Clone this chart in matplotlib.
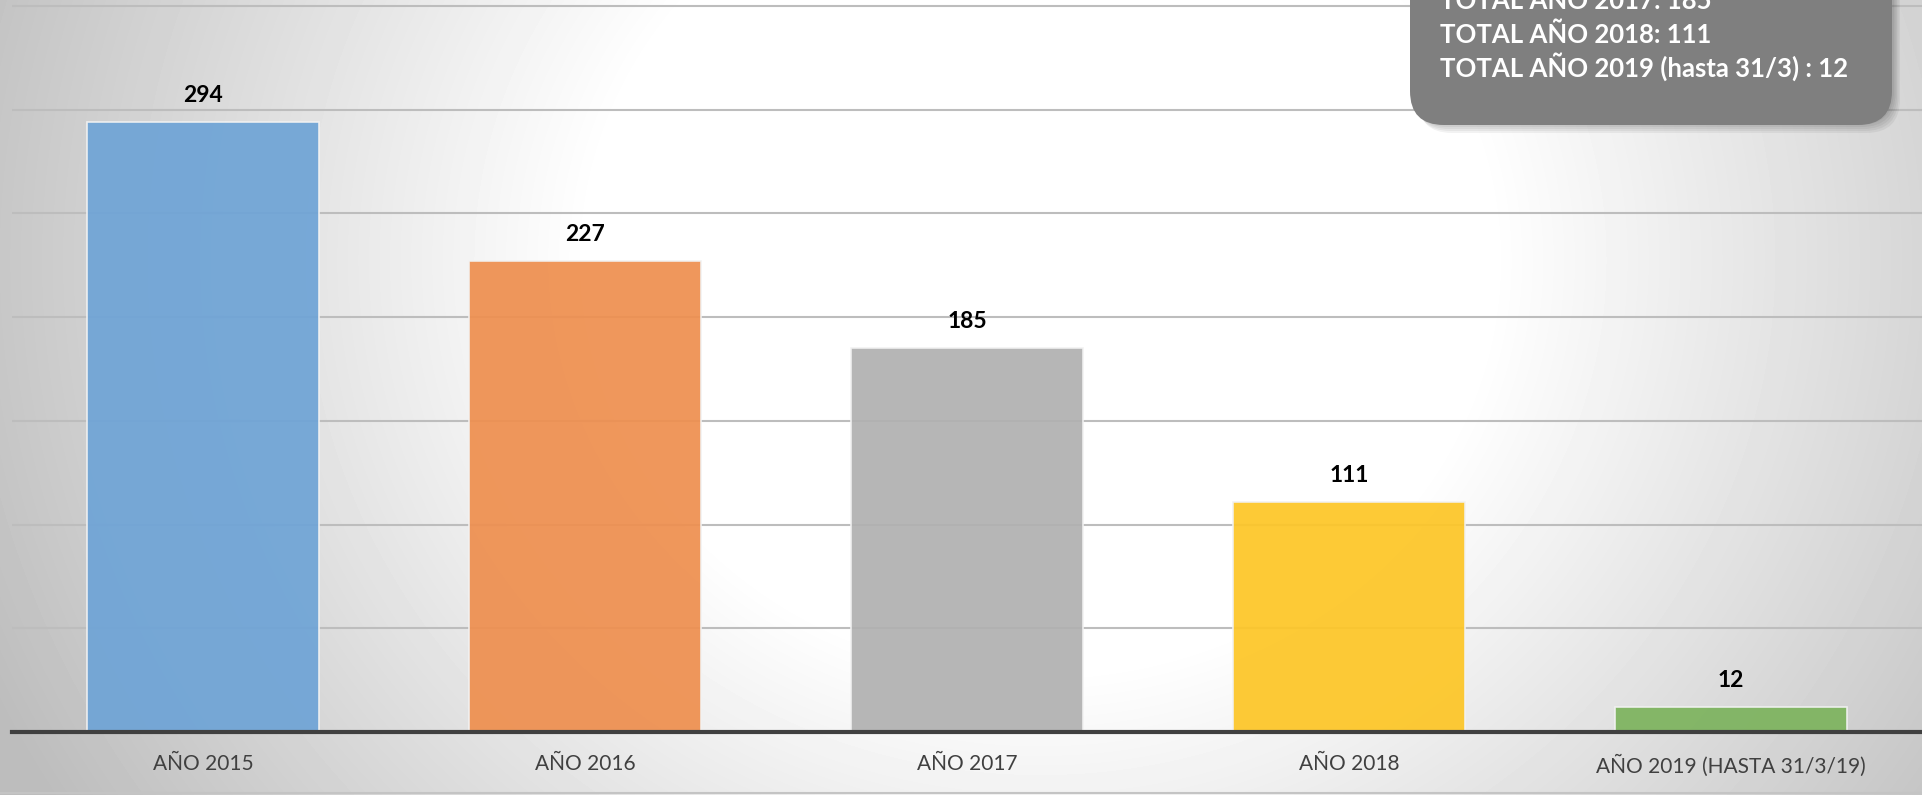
import numpy as np
import matplotlib.pyplot as plt
from matplotlib.patches import FancyBboxPatch

plt.rcParams['font.family'] = ['Lato', 'DejaVu Sans']

# chart data
categories = ['AÑO 2015', 'AÑO 2016', 'AÑO 2017', 'AÑO 2018', 'AÑO 2019 (HASTA 31/3/19)']
values = [294, 227, 185, 111, 12]
bar_colors = ['#6fa4d6', '#ee8f4f', '#b1b1b1', '#fdc627', '#7db35e']
box_lines = ['TOTAL AÑO 2017: 185', 'TOTAL AÑO 2018: 111', 'TOTAL AÑO 2019 (hasta 31/3) : 12']

W, H = 1922, 795
fig = plt.figure(figsize=(W / 100, H / 100), dpi=100)

# background: soft radial gradient, in pixel coords
bg = fig.add_axes([0, 0, 1, 1], zorder=0)
yy, xx = np.mgrid[0:H, 0:W]
d = np.hypot(xx - 1040, (yy - 260) * 1.1)
v = np.clip(1 - 0.2 * (d - 450) / 540, 0.74, 1.0)
bg.imshow(v, cmap='gray', vmin=0, vmax=1, extent=[0, W, H, 0], aspect='auto')
bg.axhline(793, color='#c4c4c4', lw=1.5)
bg.set_xlim(0, W)
bg.set_ylim(H, 0)
bg.axis('off')

# main bar chart
ax = fig.add_axes([12 / W, 63 / H, 1910 / W, 732 / H], zorder=1)
ax.patch.set_alpha(0)
x = np.arange(len(categories))
ax.set_yticks(np.arange(50, 351, 50))
ax.yaxis.grid(True, color='#bdbdbd', lw=1.5)
ax.set_axisbelow(True)
ax.bar(x, values, width=0.607, color=bar_colors, alpha=0.93,
       edgecolor='#f2f2f2', linewidth=1.2, zorder=2)
for xi, val in zip(x, values):
    ax.annotate(str(val), (xi, val), xytext=(0, 19), textcoords='offset points',
                ha='center', va='center', fontsize=16.5, fontweight='bold', color='black')
ax.set_xlim(-0.5, len(categories) - 0.5)
ax.set_ylim(0, 352.8)
ax.set_xticks(x)
ax.set_xticklabels(categories, fontsize=15, color='#404040')
ax.tick_params(axis='x', length=0, pad=16)
ax.tick_params(axis='y', length=0, labelleft=False)
for s in ['top', 'right', 'left']:
    ax.spines[s].set_visible(False)
ax.spines['bottom'].set_color('#404040')
ax.spines['bottom'].set_linewidth(3)

# overlay box with totals
ov = fig.add_axes([0, 0, 1, 1], zorder=2)
ov.set_xlim(0, W)
ov.set_ylim(H, 0)
ov.axis('off')
for i in range(5):
    sh = FancyBboxPatch((1412 + 1.5 * i, -60 + 2 * i), 482, 185,
                        boxstyle='round,pad=0,rounding_size=34',
                        fc='black', ec='none', alpha=0.05)
    ov.add_patch(sh)
box = FancyBboxPatch((1410, -60), 482, 185, boxstyle='round,pad=0,rounding_size=34',
                     fc='#7f7f7f', ec='none')
ov.add_patch(box)
for i, line in enumerate(box_lines):
    ov.text(1440, 9 + 34 * i, line, ha='left', va='baseline', fontsize=18.5,
            fontweight='bold', color='white')

fig.savefig('out.png', dpi=100)
